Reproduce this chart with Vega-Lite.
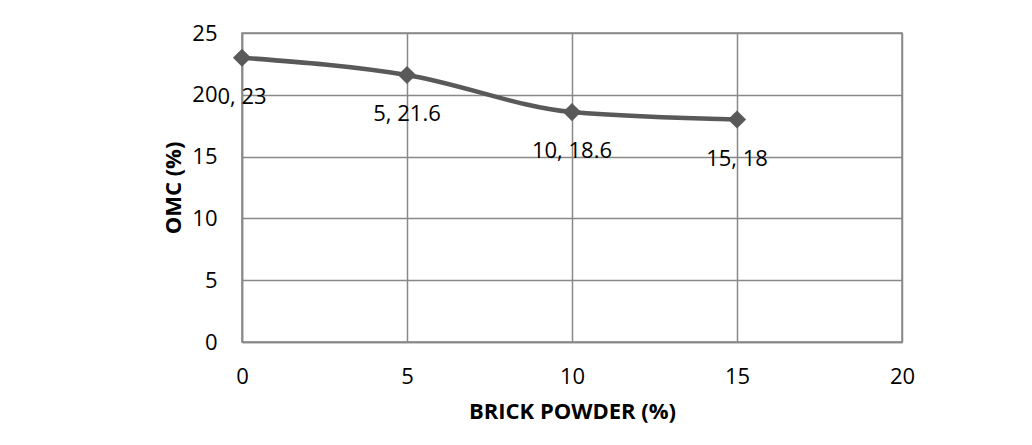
{
  "$schema": "https://vega.github.io/schema/vega-lite/v6.json",
  "width": 660,
  "height": 309,
  "autosize": "none",
  "padding": {"left": 242, "top": 33, "right": 130, "bottom": 103},
  "background": "white",
  "config": {
    "font": "Open Sans",
    "view": {"stroke": "#898989", "strokeWidth": 1.5},
    "axis": {
      "labelFont": "Open Sans",
      "labelFontSize": 22,
      "labelColor": "#000000",
      "labelFlush": false,
      "labelOverlap": false,
      "titleFont": "Open Sans",
      "titleFontSize": 22,
      "titleFontWeight": "bold",
      "titleColor": "#000000",
      "gridColor": "#898989",
      "gridWidth": 1.5,
      "gridOpacity": 1,
      "domainColor": "#898989",
      "domainWidth": 1.5,
      "ticks": false
    }
  },
  "data": {
    "values": [
      {"bp": 0, "omc": 23},
      {"bp": 5, "omc": 21.6},
      {"bp": 10, "omc": 18.6},
      {"bp": 15, "omc": 18}
    ]
  },
  "encoding": {
    "x": {
      "field": "bp",
      "type": "quantitative",
      "scale": {"domain": [0, 20], "nice": false},
      "axis": {"title": "BRICK POWDER (%)", "values": [0, 5, 10, 15, 20], "labelPadding": 24, "titlePadding": 14}
    },
    "y": {
      "field": "omc",
      "type": "quantitative",
      "scale": {"domain": [0, 25], "nice": false},
      "axis": {"title": "OMC (%)", "values": [0, 5, 10, 15, 20, 25], "labelPadding": 25, "titlePadding": 6}
    }
  },
  "layer": [
    {
      "mark": {"type": "line", "color": "#595959", "strokeWidth": 4.5, "interpolate": "monotone"}
    },
    {
      "mark": {"type": "point", "shape": "diamond", "filled": true, "color": "#595959", "size": 330, "opacity": 1}
    },
    {
      "transform": [{"calculate": "datum.bp + ', ' + datum.omc", "as": "label"}],
      "mark": {"type": "text", "font": "Open Sans", "fontSize": 22, "color": "#000000", "dy": 39, "align": "center", "baseline": "middle"},
      "encoding": {"text": {"field": "label"}}
    }
  ]
}
